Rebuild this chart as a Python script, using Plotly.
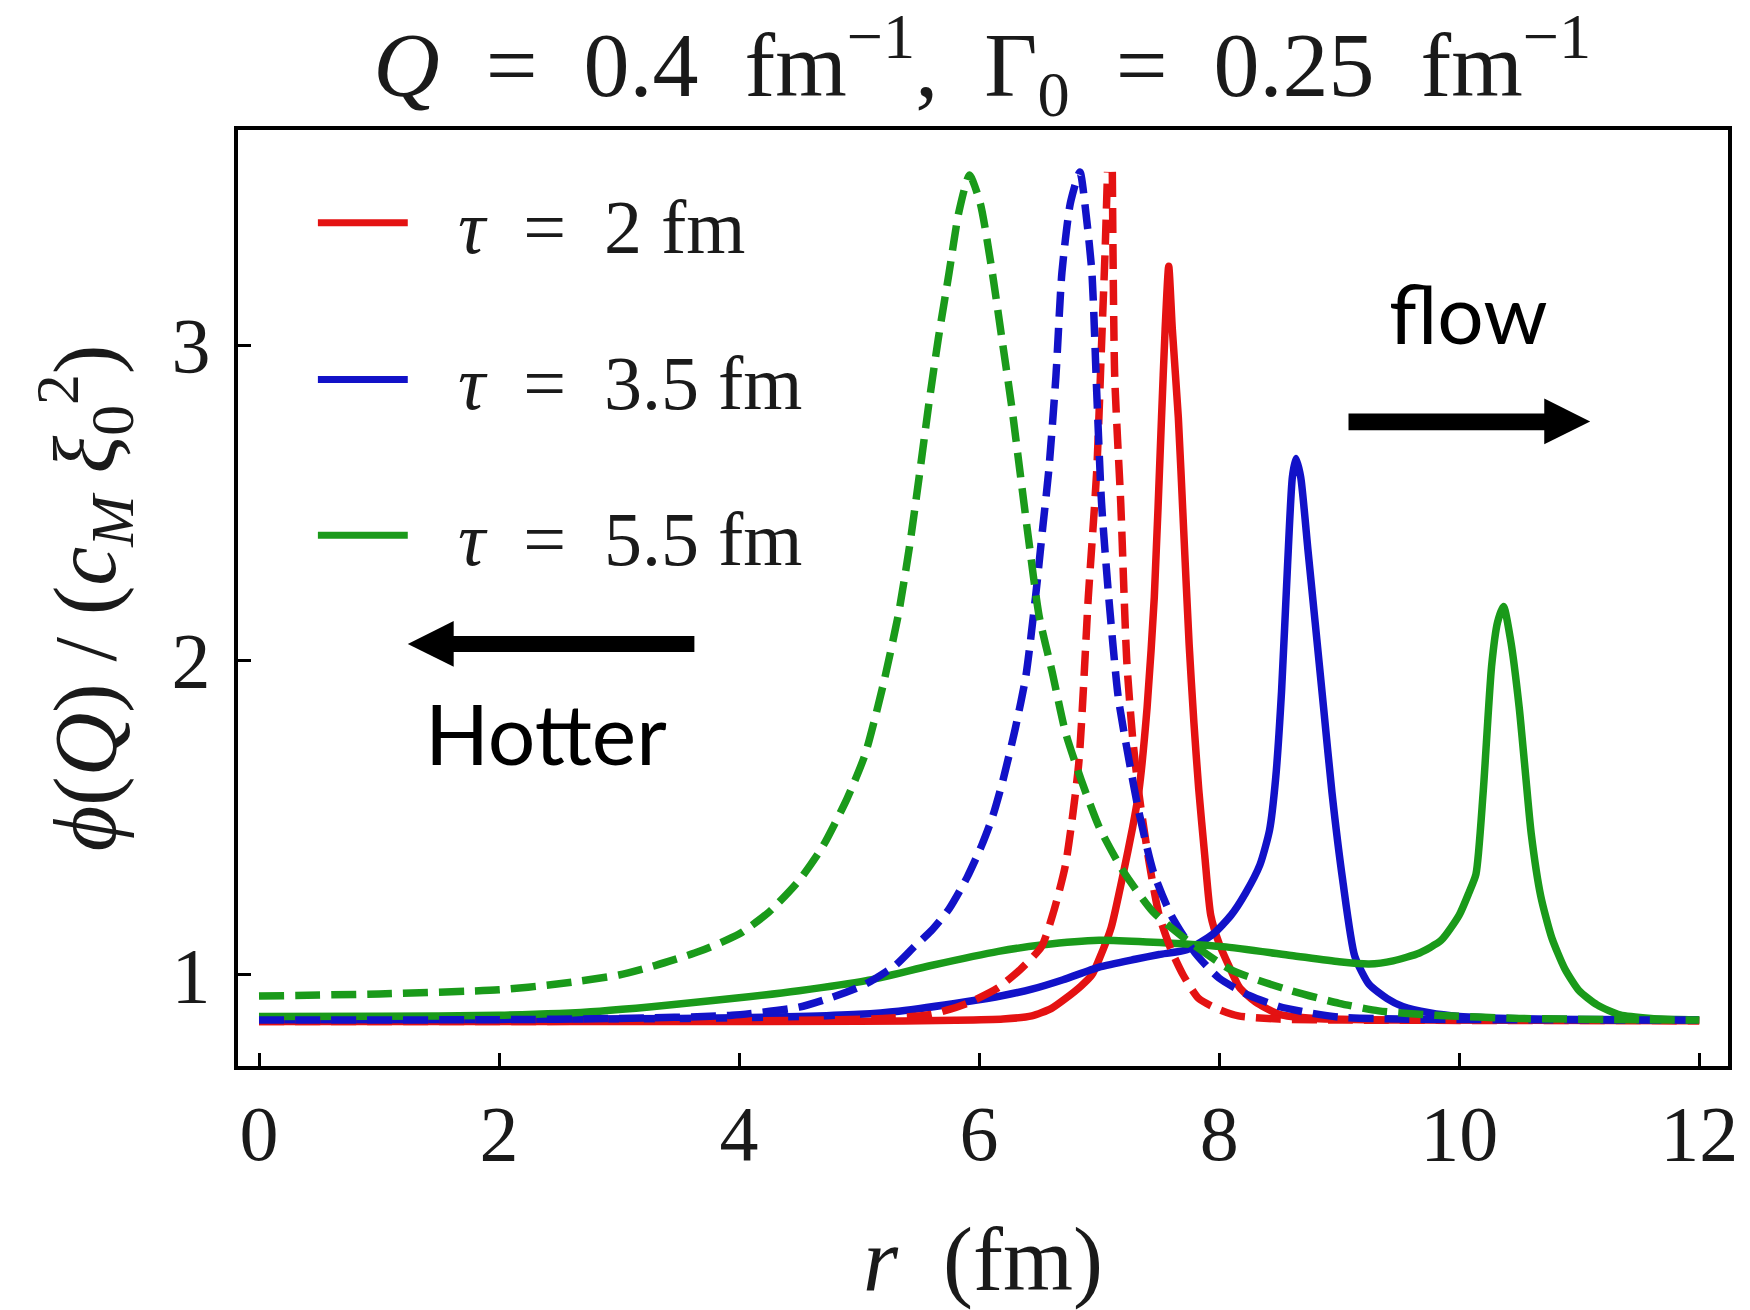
import plotly.graph_objects as go

# ---------------- data ----------------
r_red_solid = [0, 3, 5, 5.8, 6.2, 6.44, 6.6, 6.72, 6.85, 6.94, 7.0, 7.1, 7.2, 7.28, 7.33, 7.40, 7.46,
               7.52, 7.55, 7.58, 7.61, 7.66, 7.70, 7.75, 7.79, 7.83, 7.88, 7.93, 8.0, 8.08, 8.17,
               8.3, 8.5, 8.8, 9.5, 12]
y_red_solid = [0.852, 0.852, 0.853, 0.856, 0.860, 0.870, 0.893, 0.925, 0.965, 1.0, 1.05, 1.15, 1.32, 1.47,
               1.58, 1.85, 2.2, 2.77, 3.05, 3.25, 3.05, 2.77, 2.45, 2.05, 1.80, 1.59, 1.38, 1.19, 1.10,
               1.03, 0.96, 0.915, 0.875, 0.862, 0.857, 0.855]

r_red_dash = [0, 3, 4.5, 5.2, 5.6, 5.9, 6.16, 6.35, 6.52, 6.62, 6.72, 6.83, 6.91, 6.98, 7.02, 7.05, 7.07,
              None, 7.11, 7.13, 7.18, 7.23, 7.28, 7.33, 7.42, 7.5, 7.6, 7.7, 7.83, 8.0, 8.16, 8.5, 9, 12]
y_red_dash = [0.852, 0.853, 0.856, 0.862, 0.875, 0.91, 0.96, 1.02, 1.09, 1.2, 1.35, 1.67, 2.2, 2.6, 3.0,
              3.3, 3.55, None, 3.55, 2.9, 2.5, 2.0, 1.75, 1.58, 1.35, 1.19, 1.08, 1.0, 0.925, 0.89,
              0.87, 0.86, 0.857, 0.855]

r_blue_solid = [0, 2, 3.5, 4.5, 5.0, 5.33, 5.89, 6.2, 6.44, 6.7, 7.0, 7.3, 7.5, 7.73, 7.95, 8.1, 8.22,
                8.34, 8.42, 8.47, 8.52, 8.57, 8.61, 8.64, 8.68, 8.74, 8.8, 8.87, 8.94, 9.03, 9.13,
                9.25, 9.4, 9.53, 9.75, 10.0, 10.5, 11, 12]
y_blue_solid = [0.858, 0.859, 0.862, 0.868, 0.875, 0.885, 0.915, 0.935, 0.955, 0.985, 1.025, 1.05, 1.065,
                1.08, 1.13, 1.19, 1.26, 1.35, 1.46, 1.62, 1.9, 2.3, 2.58, 2.64, 2.58, 2.35, 2.12, 1.85,
                1.58, 1.3, 1.06, 0.97, 0.925, 0.9, 0.88, 0.868, 0.861, 0.859, 0.858]

r_blue_dash = [0, 2, 3, 3.94, 4.5, 4.78, 5.05, 5.3, 5.46, 5.6, 5.75, 5.9, 6.02, 6.11, 6.2, 6.3, 6.39,
               6.47, 6.53, 6.58, 6.64, 6.69, 6.76, 6.84, 6.89, 6.94, 6.98, 7.02, 7.08, 7.16, 7.25, 7.33,
               7.45, 7.6, 7.8, 8.0, 8.25, 8.5, 8.75, 9.0, 9.5, 12]
y_blue_dash = [0.857, 0.858, 0.862, 0.872, 0.898, 0.93, 0.97, 1.03, 1.09, 1.14, 1.21, 1.31, 1.41, 1.5,
               1.62, 1.78, 1.95, 2.2, 2.42, 2.6, 2.9, 3.23, 3.45, 3.55, 3.42, 3.23, 2.85, 2.5, 2.2, 1.88,
               1.68, 1.52, 1.33, 1.19, 1.07, 0.99, 0.935, 0.9, 0.88, 0.866, 0.86, 0.857]

r_green_solid = [0, 1, 2, 2.84, 3.94, 4.5, 5.06, 5.6, 6.16, 6.52, 7.0, 7.4, 8.03, 8.6, 9.0, 9.25, 9.45,
                 9.67, 9.85, 10.0, 10.08, 10.14, 10.2, 10.27, 10.32, 10.37, 10.43, 10.5, 10.55, 10.6,
                 10.68, 10.77, 10.88, 11.0, 11.15, 11.34, 11.6, 12]
y_green_solid = [0.868, 0.869, 0.872, 0.885, 0.925, 0.95, 0.982, 1.03, 1.075, 1.095, 1.11, 1.105, 1.09,
                 1.062, 1.042, 1.035, 1.045, 1.07, 1.11, 1.19, 1.26, 1.32, 1.58, 1.98, 2.12, 2.17, 2.06,
                 1.85, 1.65, 1.45, 1.25, 1.12, 1.02, 0.95, 0.905, 0.873, 0.862, 0.857]

r_green_dash = [0, 1, 2, 2.5, 3.0, 3.3, 3.67, 4.0, 4.25, 4.5, 4.7, 4.9, 5.05, 5.2, 5.33, 5.42,
                5.5, 5.58, 5.66, 5.75, 5.83, 5.92, 6.01, 6.11, 6.19, 6.27, 6.34, 6.41, 6.5, 6.61, 6.72,
                6.85, 7.0, 7.2, 7.45, 7.7, 8.1, 8.6, 9.0, 9.33, 9.8, 10.5, 11.5, 12]
y_green_dash = [0.933, 0.94, 0.953, 0.972, 1.0, 1.03, 1.075, 1.13, 1.20, 1.30, 1.41, 1.56, 1.70, 1.92,
                2.15, 2.36, 2.58, 2.81, 3.02, 3.23, 3.42, 3.54, 3.45, 3.23, 3.02, 2.81, 2.6, 2.39, 2.14,
                1.96, 1.77, 1.62, 1.47, 1.33, 1.2, 1.12, 1.016, 0.95, 0.91, 0.886, 0.872, 0.862, 0.858,
                0.857]

legend_labels = ["<i>τ</i>  =  2 fm", "<i>τ</i>  =  3.5 fm", "<i>τ</i>  =  5.5 fm"]
x_ticks = [0, 2, 4, 6, 8, 10, 12]
y_ticks = [1, 2, 3]

RED, BLUE, GREEN = "#e41212", "#1212c8", "#1a9a1a"
W, H = 1750, 1310
L, R, T, B = 238, 1730, 130, 1068  # plot-area pixel box
SERIF = "Liberation Serif"
TXT = "#1a1a1a"


def px(x):
    return (x - L) / (R - L)


def py(y):
    return (B - y) / (B - T)


fig = go.Figure()
lw = 7.5
dash = "25px,11px"
for rr, yy, c, d in [
    (r_red_solid, y_red_solid, RED, "solid"),
    (r_blue_solid, y_blue_solid, BLUE, "solid"),
    (r_green_solid, y_green_solid, GREEN, "solid"),
    (r_red_dash, y_red_dash, RED, dash),
    (r_blue_dash, y_blue_dash, BLUE, dash),
    (r_green_dash, y_green_dash, GREEN, dash),
]:
    fig.add_trace(go.Scatter(x=rr, y=yy, mode="lines", connectgaps=False,
                             line=dict(color=c, width=lw, dash=d, shape="spline", smoothing=0.6),
                             showlegend=False, hoverinfo="skip"))

shapes = []
annotations = []
# manual legend
leg_y = [223, 380, 536]
for lab, c, yy in zip(legend_labels, [RED, BLUE, GREEN], leg_y):
    shapes.append(dict(type="line", xref="paper", yref="paper", x0=px(318), x1=px(408),
                       y0=py(yy), y1=py(yy), line=dict(color=c, width=7)))
    annotations.append(dict(xref="paper", yref="paper", x=px(456), y=py(yy + 4), text=lab,
                            showarrow=False, xanchor="left", yanchor="middle",
                            font=dict(family=SERIF, size=76, color=TXT)))

# flow arrow (right)
shapes.append(dict(type="rect", xref="paper", yref="paper", x0=px(1350), x1=px(1548),
                   y0=py(431), y1=py(414), fillcolor="black", line=dict(width=0)))
shapes.append(dict(type="path", xref="paper", yref="paper",
                   path=f"M {px(1546)} {py(399)} L {px(1592)} {py(422)} L {px(1546)} {py(445)} Z",
                   fillcolor="black", line=dict(width=0)))
annotations.append(dict(xref="paper", yref="paper", x=px(1470), y=py(312), text="flow",
                        showarrow=False, xanchor="center", yanchor="middle",
                        font=dict(family="Lato", size=82, color="black")))
# hotter arrow (left)
shapes.append(dict(type="rect", xref="paper", yref="paper", x0=px(451), x1=px(695),
                   y0=py(653), y1=py(637), fillcolor="black", line=dict(width=0)))
shapes.append(dict(type="path", xref="paper", yref="paper",
                   path=f"M {px(454)} {py(622)} L {px(408)} {py(645)} L {px(454)} {py(668)} Z",
                   fillcolor="black", line=dict(width=0)))
annotations.append(dict(xref="paper", yref="paper", x=px(546), y=py(734), text="Hotter",
                        showarrow=False, xanchor="center", yanchor="middle",
                        font=dict(family="Lato", size=84, color="black")))

fig.update_layout(
    width=W, height=H,
    margin=dict(l=L, r=W - R, t=T, b=H - B),
    paper_bgcolor="white", plot_bgcolor="white",
    title=dict(text="<i>Q</i>  =  0.4  fm<sup>−1</sup>,  Γ<sub>0</sub>  =  0.25  fm<sup>−1</sup>",
               x=0.4995, xref="paper", xanchor="center", y=1 - 64 / H, yanchor="middle",
               yref="container",
               font=dict(family=SERIF, size=92, color=TXT)),
    shapes=shapes, annotations=annotations,
    xaxis=dict(range=[-0.175, 12.24], tickvals=x_ticks, ticktext=[str(v) for v in x_ticks],
               ticks="inside", ticklen=13, tickwidth=3, tickcolor="black",
               showline=True, linecolor="black", linewidth=4, mirror=True,
               showgrid=False, zeroline=False, ticklabelstandoff=-4,
               tickfont=dict(family=SERIF, size=78, color=TXT),
               title=dict(text="<i>r</i>  (fm)", standoff=58,
                          font=dict(family=SERIF, size=90, color=TXT))),
    yaxis=dict(range=[0.711, 3.683], tickvals=y_ticks, ticktext=[str(v) for v in y_ticks],
               ticks="inside", ticklen=13, tickwidth=3, tickcolor="black",
               showline=True, linecolor="black", linewidth=4, mirror=True,
               showgrid=False, zeroline=False, ticklabelstandoff=8,
               tickfont=dict(family=SERIF, size=78, color=TXT),
               title=dict(text="<i>ϕ</i>(<i>Q</i>) / (<i>c<sub>M</sub></i> <i>ξ</i><sub>0</sub><sup>2</sup>)",
                          standoff=28,
                          font=dict(family=SERIF, size=88, color=TXT))),
)

fig.write_html("out.html")
